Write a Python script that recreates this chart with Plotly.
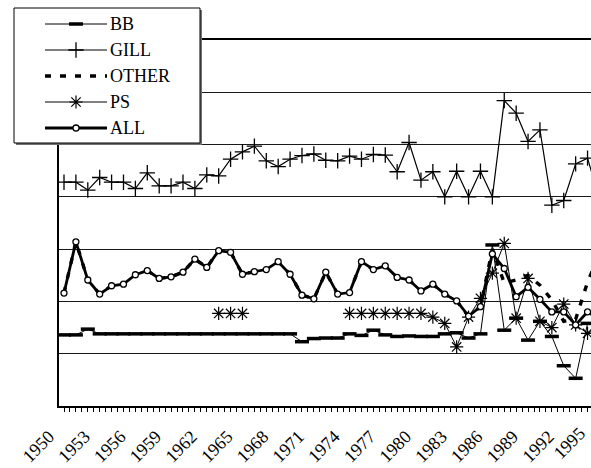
import plotly.graph_objects as go

years = list(range(1950, 1996))

bb = [1.36, 1.36, 1.47, 1.38, 1.38, 1.38, 1.38, 1.38, 1.38, 1.38,
      1.38, 1.38, 1.38, 1.38, 1.38, 1.38, 1.38, 1.38, 1.38, 1.38,
      1.23, 1.29, 1.30, 1.30, 1.38, 1.35, 1.45, 1.36, 1.33, 1.34,
      1.33, 1.33, 1.38, 1.40, 1.30, 1.38, 3.08, 1.45, 1.68, 1.26,
      1.62, 1.33, 0.77, 0.53, 1.58, 1.50]

gill = [4.28, 4.28, 4.13, 4.37, 4.28, 4.28, 4.16, 4.46, 4.21, 4.21,
        4.28, 4.16, 4.42, 4.40, 4.72, 4.86, 4.97, 4.69, 4.58, 4.72,
        4.79, 4.82, 4.70, 4.69, 4.78, 4.72, 4.81, 4.80, 4.48, 5.04,
        4.32, 4.48, 4.00, 4.49, 4.00, 4.49, 4.00, 5.84, 5.60, 5.06,
        5.28, 3.84, 3.93, 4.63, 4.74, 3.95]

other = [2.16, 3.14, 2.41, 2.14, 2.30, 2.33, 2.51, 2.59, 2.44, 2.47,
         2.56, 2.81, 2.65, 2.97, 2.94, 2.52, 2.57, 2.61, 2.76, 2.52,
         2.12, 2.05, 2.56, 2.14, 2.17, 2.76, 2.61, 2.68, 2.46, 2.41,
         2.20, 2.33, 2.14, 2.01, 1.72, 1.90, 3.00, 2.35, 2.41, 2.50,
         2.31, 2.03, 1.62, 1.66, 2.37, 2.90]

ps = [None] * 13 + [1.77, 1.77, 1.77] + [None] * 8 + \
     [1.77, 1.77, 1.77, 1.77, 1.77, 1.77, 1.77, 1.70, 1.58, 1.13,
      1.70, 2.06, 2.54, 3.11, 1.68, 2.44, 1.62, 1.50, 1.95, 1.55,
      1.39, 1.50]

all_ = [2.16, 3.14, 2.41, 2.14, 2.30, 2.33, 2.51, 2.59, 2.44, 2.47,
        2.56, 2.81, 2.65, 2.97, 2.94, 2.52, 2.57, 2.61, 2.76, 2.52,
        2.12, 2.05, 2.56, 2.14, 2.17, 2.76, 2.61, 2.68, 2.46, 2.41,
        2.20, 2.33, 2.14, 2.01, 1.72, 1.90, 2.91, 2.63, 2.09, 2.27,
        2.04, 1.80, 1.80, 1.55, 1.80, 1.65]

series_names = ["BB", "GILL", "OTHER", "PS", "ALL"]
label_years = list(range(1950, 1996, 3))

W, H = 591, 468
SERIF = "Liberation Serif"
INK = "black"

# plot-area box in pixels (left, right, top, bottom)
PL, PR, PT, PB = 59, 591, 40, 406
X_RANGE = [1949.58, 1994.29]

# one style per series: line width/dash plus marker
styles = {
    "BB": dict(line=dict(color=INK, width=1),
               marker=dict(symbol="line-ew-open", size=10, color=INK,
                           line=dict(color=INK, width=3.5)),
               mode="lines+markers"),
    "GILL": dict(line=dict(color=INK, width=1.2),
                 marker=dict(symbol="cross-thin-open", size=11, color=INK,
                             line=dict(color=INK, width=1.3)),
                 mode="lines+markers"),
    "OTHER": dict(line=dict(color=INK, width=3.4, dash="6px,9px"),
                  mode="lines"),
    "PS": dict(line=dict(color=INK, width=1),
               marker=dict(symbol="asterisk-open", size=11, color=INK,
                           line=dict(color=INK, width=1.2)),
               mode="lines+markers"),
    "ALL": dict(line=dict(color=INK, width=2.8),
                marker=dict(symbol="circle", size=6, color="white",
                            line=dict(color=INK, width=1.3)),
                mode="lines+markers"),
}
values = {"BB": bb, "GILL": gill, "OTHER": other, "PS": ps, "ALL": all_}

fig = go.Figure()
for name in series_names:
    fig.add_trace(go.Scatter(x=years, y=values[name], name=name,
                             showlegend=False, connectgaps=False,
                             xaxis="x", yaxis="y", **styles[name]))

# legend key drawn on a pixel-scaled overlay axis
LEG_BOX = (14, 200, 8, 143)
KEY_X0, KEY_X1, TEXT_X = 45, 107, 108
ROW0, ROW_STEP = 24, 26
for i, name in enumerate(series_names):
    ry = ROW0 + ROW_STEP * i
    st = styles[name]
    fig.add_trace(go.Scatter(x=[KEY_X0, KEY_X1], y=[ry, ry], mode="lines",
                             line=st["line"], showlegend=False,
                             hoverinfo="skip", xaxis="x2", yaxis="y2"))
    if "marker" in st:
        fig.add_trace(go.Scatter(x=[(KEY_X0 + KEY_X1) / 2], y=[ry],
                                 mode="markers", marker=st["marker"],
                                 showlegend=False, hoverinfo="skip",
                                 xaxis="x2", yaxis="y2"))
    fig.add_annotation(text=name, xref="x2", yref="y2", x=TEXT_X, y=ry,
                       xanchor="left", yanchor="middle", showarrow=False,
                       xshift=0, yshift=0,
                       font=dict(family=SERIF, size=18, color=INK))

bx0, bx1, by0, by1 = LEG_BOX
fig.add_shape(type="rect", xref="x2", yref="y2", layer="between",
              x0=bx0 + 2, x1=bx1 + 2, y0=by0 + 2, y1=by1 + 2,
              fillcolor="#707070", line=dict(width=0))
fig.add_shape(type="rect", xref="x2", yref="y2", layer="between",
              x0=bx0, x1=bx1, y0=by0, y1=by1,
              fillcolor="white", line=dict(color=INK, width=1))

# last year label sits past the right edge of the axis range
fig.add_annotation(text="1995", xref="paper", yref="paper",
                   x=1.0, y=1 - 420 / H, xanchor="right", yanchor="top",
                   textangle=-45, showarrow=False, xshift=1,
                   font=dict(family=SERIF, size=18, color=INK))

fig.update_layout(
    width=W, height=H,
    margin=dict(l=0, r=0, t=0, b=0),
    paper_bgcolor="white", plot_bgcolor="rgba(0,0,0,0)",
    font=dict(family=SERIF, color=INK, size=18),
    showlegend=False,
    xaxis=dict(
        domain=[PL / W, PR / W], anchor="y",
        range=X_RANGE, showgrid=False, zeroline=False,
        showline=True, mirror=True, linecolor=INK, linewidth=2,
        tickmode="array", tickvals=label_years,
        ticktext=[str(v) for v in label_years],
        ticks="outside", ticklen=4, tickcolor=INK, tickwidth=1,
        tickangle=-45, tickfont=dict(family=SERIF, size=18, color=INK),
        ticklabelstandoff=7, ticklabelshift=-15,
        minor=dict(tick0=1949.5, dtick=0.5, ticks="outside", ticklen=4,
                   tickcolor=INK, tickwidth=1),
        automargin=False,
    ),
    yaxis=dict(
        domain=[1 - PB / H, 1 - PT / H], anchor="x",
        range=[0, 7], dtick=1, showgrid=True, gridcolor="#1a1a1a",
        gridwidth=1, zeroline=False, showline=True, linecolor=INK,
        linewidth=2, showticklabels=False, ticks="", automargin=False,
    ),
    xaxis2=dict(domain=[0, 1], anchor="y2", range=[0, W], visible=False,
                fixedrange=True),
    yaxis2=dict(domain=[0, 1], anchor="x2", range=[H, 0], visible=False,
                fixedrange=True),
)

fig.write_html("out.html")
